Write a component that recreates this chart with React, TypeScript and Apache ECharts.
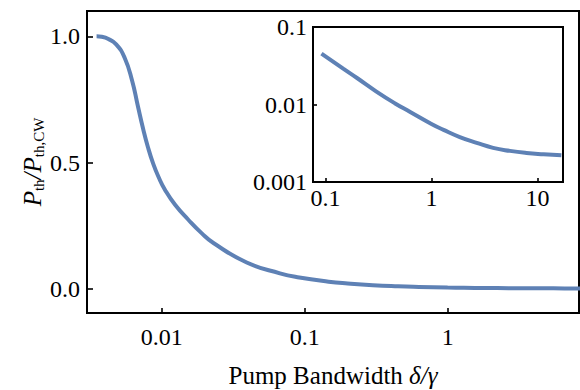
import React, { useEffect, useRef } from "react";
import * as echarts from "echarts";

// Pump bandwidth δ/γ (x) and normalized threshold P_th/P_th,CW (y)
const bandwidth = [
  0.0035, 0.0038, 0.0042, 0.0048, 0.0055, 0.0062, 0.0068, 0.0074, 0.0080,
  0.0087, 0.0095, 0.01055, 0.0124, 0.01535, 0.019, 0.023, 0.0393, 0.0671,
  0.0917, 0.147, 0.2, 0.3, 0.45, 0.63, 1.0, 1.3, 1.85, 2.67, 3.81, 5.5, 7.87,
  11.4, 16.8,
];
const threshold = [
  1.0, 0.998, 0.99, 0.968, 0.915, 0.825, 0.725, 0.635, 0.562, 0.497, 0.443,
  0.392, 0.333, 0.274, 0.221, 0.182, 0.105, 0.062, 0.0454, 0.029, 0.0218,
  0.0148, 0.0104, 0.008, 0.0056, 0.0047, 0.0038, 0.0032, 0.00276, 0.00252,
  0.00237, 0.00228, 0.00221,
];

const mainYTicks = [0, 0.5, 1];
const insetXStart = 0.09;

const FONT = '"Liberation Serif", "Times New Roman", Times, serif';
const BLUE = "#5E81B5";

const fmtLog = (v: number) => String(parseFloat(Number(v).toPrecision(3)));

export default function App() {
  const ref = useRef<HTMLDivElement>(null);

  useEffect(() => {
    if (!ref.current) return;
    const chart = echarts.init(ref.current, undefined, { renderer: "svg" });

    const pairs = bandwidth.map((x, i) => [x, threshold[i]]);
    const insetPairs = pairs.filter((p) => p[0] >= insetXStart);

    const labelStyle = { fontFamily: FONT, fontSize: 24, color: "#000" };
    const axLine = { show: true, onZero: false, lineStyle: { color: "#000", width: 2 } };
    const tick = (len: number) => ({
      inside: true,
      length: len,
      lineStyle: { color: "#000", width: 1.6 },
    });

    chart.setOption({
      animation: false,
      backgroundColor: "#fff",
      textStyle: { fontFamily: FONT },
      grid: [
        {
          left: 87,
          top: 11,
          width: 492,
          height: 302,
          show: true,
          borderColor: "#000",
          borderWidth: 2,
          backgroundColor: "transparent",
          containLabel: false,
          outerBoundsMode: "none",
        },
        {
          left: 313,
          top: 27,
          width: 250,
          height: 155,
          show: true,
          borderColor: "#000",
          borderWidth: 2,
          backgroundColor: "#fff",
          containLabel: false,
          outerBoundsMode: "none",
          z: 5,
        },
      ],
      xAxis: [
        {
          type: "log",
          gridIndex: 0,
          min: 0.003,
          max: 8.3,
          logBase: 10,
          axisLine: axLine,
          axisTick: tick(5),
          minorTick: { show: false },
          splitLine: { show: false },
          axisLabel: {
            ...labelStyle,
            margin: 12,
            showMinLabel: false,
            showMaxLabel: false,
            formatter: fmtLog,
          },
          name: "Pump Bandwidth {i|δ/γ}",
          nameLocation: "middle",
          nameGap: 50,
          nameTextStyle: {
            fontFamily: FONT,
            fontSize: 25,
            color: "#000",
            rich: {
              i: { fontFamily: FONT, fontSize: 25, fontStyle: "italic", color: "#000" },
            },
          },
        },
        {
          type: "log",
          gridIndex: 1,
          min: 0.0763,
          max: 17.4,
          logBase: 10,
          axisLine: axLine,
          axisTick: tick(4),
          minorTick: { show: false },
          splitLine: { show: false },
          axisLabel: {
            ...labelStyle,
            margin: 4,
            showMinLabel: false,
            showMaxLabel: false,
            formatter: fmtLog,
          },
          z: 6,
        },
      ],
      yAxis: [
        {
          type: "value",
          gridIndex: 0,
          min: -0.095,
          max: 1.1,
          axisLine: axLine,
          axisTick: { ...tick(6), customValues: mainYTicks },
          splitLine: { show: false },
          axisLabel: {
            ...labelStyle,
            margin: 7,
            customValues: mainYTicks,
            formatter: (v: number) => Number(v).toFixed(1),
          },
          name: "{p|P}{s|th}{p|/}{p|P}{s|th,CW}",
          nameLocation: "middle",
          nameGap: 41,
          nameMoveOverlap: false,
          nameTextStyle: {
            color: "#000",
            rich: {
              p: {
                fontFamily: FONT,
                fontSize: 25,
                fontStyle: "italic",
                color: "#000",
                lineHeight: 28,
                verticalAlign: "middle",
              },
              s: {
                fontFamily: FONT,
                fontSize: 15,
                color: "#000",
                lineHeight: 15,
                verticalAlign: "bottom",
              },
            },
          },
        },
        {
          type: "log",
          gridIndex: 1,
          min: 0.001,
          max: 0.1,
          logBase: 10,
          axisLine: axLine,
          axisTick: tick(4),
          minorTick: { show: false },
          splitLine: { show: false },
          axisLabel: { ...labelStyle, margin: 6, formatter: fmtLog },
          z: 6,
        },
      ],
      series: [
        {
          type: "line",
          xAxisIndex: 0,
          yAxisIndex: 0,
          data: pairs,
          showSymbol: false,
          smooth: 0.5,
          clip: true,
          lineStyle: { color: BLUE, width: 4 },
        },
        {
          type: "line",
          xAxisIndex: 1,
          yAxisIndex: 1,
          data: insetPairs,
          showSymbol: false,
          smooth: 0.5,
          clip: true,
          z: 7,
          lineStyle: { color: BLUE, width: 4 },
        },
      ],
    });

    return () => chart.dispose();
  }, []);

  return (
    <div
      ref={ref}
      style={{ width: 580, height: 390, position: "fixed", left: 0, top: 0 }}
    />
  );
}
